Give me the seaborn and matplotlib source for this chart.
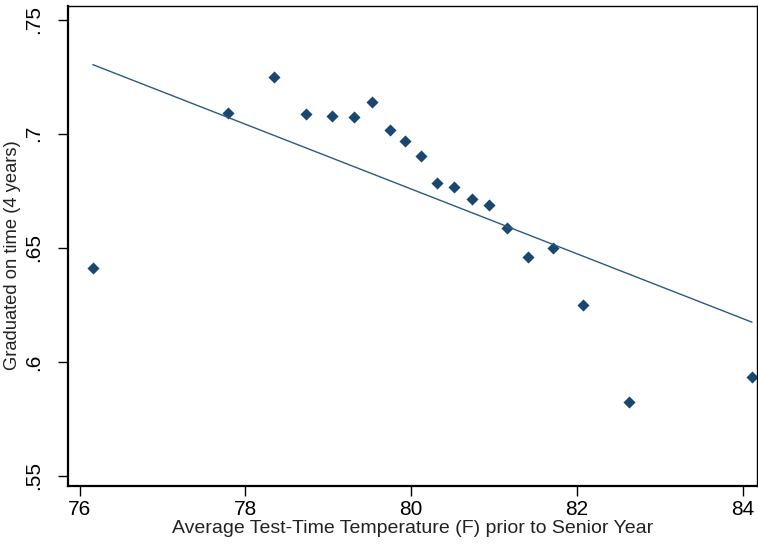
import matplotlib
matplotlib.use('Agg')
import pandas as pd
import seaborn as sns
import matplotlib.pyplot as plt

# binned means
temp_bins = [76.16, 77.79, 78.35, 78.73, 79.04, 79.31, 79.53, 79.74, 79.93, 80.12,
             80.31, 80.52, 80.73, 80.94, 81.15, 81.41, 81.71, 82.07, 82.63, 84.11]
grad_rate = [0.6413, 0.7093, 0.7249, 0.7088, 0.7080, 0.7075, 0.7139, 0.7018, 0.6970, 0.6901,
             0.6785, 0.6767, 0.6716, 0.6687, 0.6588, 0.6460, 0.6501, 0.6251, 0.5823, 0.5935]

# linear fit line endpoints
fit_temp = [76.16, 84.11]
fit_grad = [0.7303, 0.6174]

x_ticks = [76, 78, 80, 82, 84]
y_ticks = [0.55, 0.60, 0.65, 0.70, 0.75]
y_tick_labels = ['.55', '.6', '.65', '.7', '.75']

x_label = 'Average Test-Time Temperature (F) prior to Senior Year'
y_label = 'Graduated on time (4 years)'


def main():
    sns.set_style('white')
    plt.rcParams['font.family'] = ['Liberation Sans', 'DejaVu Sans']

    df_bins = pd.DataFrame({'temp': temp_bins, 'grad': grad_rate})
    df_fit = pd.DataFrame({'temp': fit_temp, 'grad': fit_grad})

    fig = plt.figure(figsize=(7.58, 5.48), dpi=100)
    ax = fig.add_axes([68 / 758, 1 - 486 / 548, (757 - 68) / 758, (486 - 6) / 548])

    navy = '#1a476f'
    sns.scatterplot(data=df_bins, x='temp', y='grad', marker='D', s=38,
                    color=navy, edgecolor=navy, linewidth=0, ax=ax)
    sns.lineplot(data=df_fit, x='temp', y='grad', color='#2b5a82', linewidth=1.0, ax=ax)

    ax.set_xlim(75.86, 84.17)
    ax.set_ylim(0.5456, 0.7560)
    ax.set_xticks(x_ticks)
    ax.set_yticks(y_ticks)
    ax.set_yticklabels(y_tick_labels, rotation=90, va='center')

    ax.tick_params(axis='both', direction='out', length=7, width=1.0, color='black',
                   labelsize=15, labelcolor='black', bottom=True, left=True)
    ax.tick_params(axis='y', pad=11)
    ax.tick_params(axis='x', pad=3)
    ax.set_xlabel(x_label, fontsize=14, labelpad=1, color='#222222')
    ax.set_ylabel(y_label, fontsize=13.2, labelpad=3, color='#222222')
    ax.yaxis.set_label_coords(-0.068, 0.48)

    for side in ['top', 'right']:
        ax.spines[side].set_linewidth(1.0)
        ax.spines[side].set_color('black')
    for side in ['left', 'bottom']:
        ax.spines[side].set_linewidth(1.6)
        ax.spines[side].set_color('black')

    fig.savefig('out.png', dpi=100)


if __name__ == '__main__':
    main()
